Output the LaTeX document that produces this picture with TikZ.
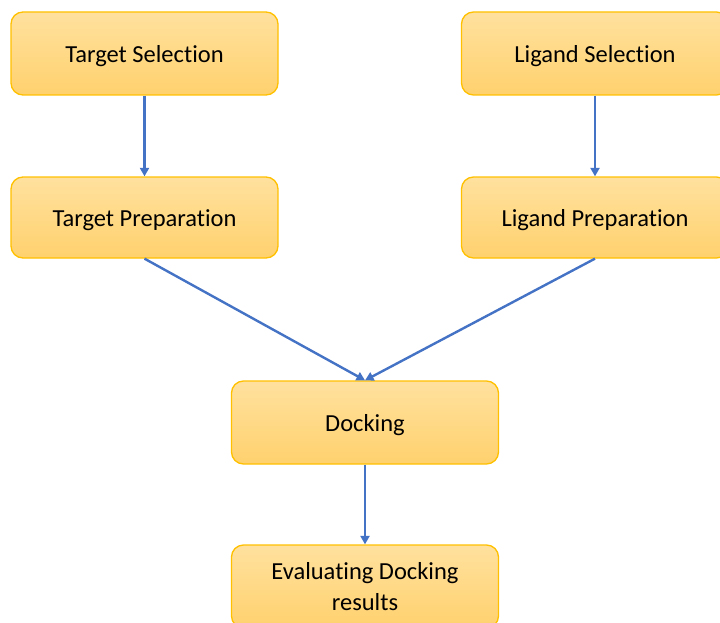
\documentclass[tikz,border=0pt]{standalone}
\usepackage{fontspec}
\setmainfont[Ligatures={NoCommon}]{Carlito}
\usetikzlibrary{arrows.meta,shadings}
\definecolor{boxtop}{HTML}{FFE19E}
\definecolor{boxbot}{HTML}{FFD16E}
\definecolor{boxline}{HTML}{FFC000}
\definecolor{arrowblue}{HTML}{4472C4}
\newcommand{\lowr}[1]{\raisebox{-2.5pt}[\height][\depth]{#1}}
\tikzset{
  stepbox/.style={draw=boxline, line width=1.3pt, rounded corners=12pt,
    top color=boxtop, bottom color=boxbot, minimum width=267pt, minimum height=83pt,
    align=center, inner sep=0pt, font=\fontsize{24.5}{31}\selectfont, text=black},
  flow/.style={draw=arrowblue, line width=2.4pt, -{Triangle[length=8.5pt,width=9pt]}}
}
\begin{document}
\begin{tikzpicture}[x=1pt,y=-1pt]
\useasboundingbox (0,0) rectangle (720,623);
\clip (0,0) rectangle (720,623);
\node[stepbox] (ts) at (144.5,53.5) {\lowr{Target Selection}};
\node[stepbox] (ls) at (595,53.5) {\lowr{Ligand Selection}};
\node[stepbox, minimum height=81pt] (tp) at (144.5,217.5) {\lowr{Target Preparation}};
\node[stepbox, minimum height=81pt] (lp) at (595,217.5) {\lowr{Ligand Preparation}};
\node[stepbox] (dk) at (365,422.5) {\lowr{Docking}};
\node[stepbox] (ev) at (365,586.5) {Evaluating Docking\\results};
\draw[flow] (ts.south) -- (tp.north);
\draw[flow] (ls.south) -- (lp.north);
\draw[flow] (tp.south) -- (dk.north);
\draw[flow] (lp.south) -- (dk.north);
\draw[flow] (dk.south) -- (ev.north);
\end{tikzpicture}
\end{document}
